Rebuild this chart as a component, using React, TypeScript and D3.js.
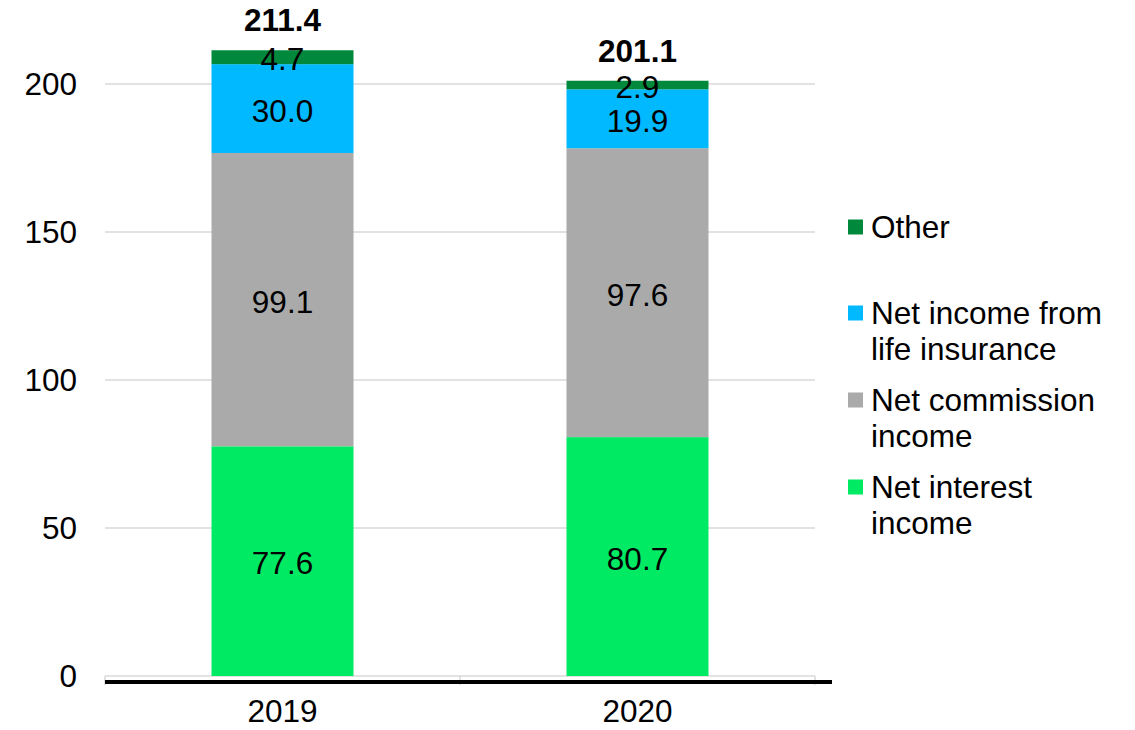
import React from "react";
import * as d3 from "d3";

const categories = ["2019", "2020"];
const seriesNames = ["Net interest income", "Net commission income", "Net income from life insurance", "Other"];
const netInterest = [77.6, 80.7];
const netCommission = [99.1, 97.6];
const lifeInsurance = [30.0, 19.9];
const other = [4.7, 2.9];
const totals = [211.4, 201.1];
const yTicks = [0, 50, 100, 150, 200];
const colors = ["#00EA64", "#AAAAAA", "#00B9FF", "#00893C"];
const legendLines: string[][] = [
  ["Other"],
  ["Net income from", "life insurance"],
  ["Net commission", "income"],
  ["Net interest", "income"],
];
const legendColorIdx = [3, 2, 1, 0];
const legendY = [227, 313, 400, 487];

export default function App() {
  const W = 1135, H = 730;
  const left = 105, right = 815;
  const y = d3.scaleLinear().domain([0, 200]).range([676, 84]);
  const x = d3.scaleBand().domain(categories).range([left, right]).paddingInner(0.6).paddingOuter(0.3);
  const values = [netInterest, netCommission, lifeInsurance, other];
  const rows = categories.map((c, i) => {
    const r: any = { cat: c };
    seriesNames.forEach((s, k) => (r[s] = values[k][i]));
    return r;
  });
  const stacked = d3.stack().keys(seriesNames)(rows);
  const font = "Arial, 'Liberation Sans', sans-serif";
  const fs = 31.5;
  const bw = x.bandwidth();
  return (
    <svg width={W} height={H} style={{ position: "absolute", left: 0, top: 0 }} fontFamily={font}>
      <rect width={W} height={H} fill="#fff" />
      {yTicks.map((t) => (
        <g key={t}>
          <line x1={left} x2={right} y1={y(t)} y2={y(t)} stroke="#D9D9D9" strokeWidth={1.5} />
          <text x={77} y={y(t)} textAnchor="end" dominantBaseline="central" fontSize={fs} fill="#000">
            {t}
          </text>
        </g>
      ))}
      {[left, (left + right) / 2, right].map((tx, i) => (
        <line key={i} x1={tx} x2={tx} y1={y(0)} y2={y(0) + 9} stroke="#D9D9D9" strokeWidth={1.5} />
      ))}
      {stacked.map((s, k) => (
        <g key={k}>
          {s.map((d, i) => (
            <rect key={i} x={x(categories[i])!} width={bw} y={y(d[1])} height={y(d[0]) - y(d[1])} fill={colors[k]} />
          ))}
        </g>
      ))}
      <line x1={left} x2={832} y1={682} y2={682} stroke="#000" strokeWidth={4} />
      {stacked.map((s, k) => (
        <g key={"l" + k}>
          {s.map((d, i) => (
            <text
              key={i}
              x={x(categories[i])! + bw / 2}
              y={(y(d[0]) + y(d[1])) / 2 + 2}
              textAnchor="middle"
              dominantBaseline="central"
              fontSize={fs}
              fill="#000"
            >
              {values[k][i].toFixed(1)}
            </text>
          ))}
        </g>
      ))}
      {categories.map((c, i) => (
        <text key={c} x={x(c)! + bw / 2} y={y(totals[i]) - 30} textAnchor="middle" dominantBaseline="central" fontSize={fs} fontWeight="bold" fill="#000">
          {totals[i].toFixed(1)}
        </text>
      ))}
      {categories.map((c) => (
        <text key={"x" + c} x={x(c)! + bw / 2} y={711} textAnchor="middle" dominantBaseline="central" fontSize={fs} fill="#000">
          {c}
        </text>
      ))}
      {legendLines.map((lines, j) => (
        <g key={"lg" + j}>
          <rect x={848} y={legendY[j] - 7.5} width={15} height={15} fill={colors[legendColorIdx[j]]} />
          {lines.map((ln, m) => (
            <text key={m} x={871} y={legendY[j] + m * 36} dominantBaseline="central" fontSize={fs} fill="#000">
              {ln}
            </text>
          ))}
        </g>
      ))}
    </svg>
  );
}
